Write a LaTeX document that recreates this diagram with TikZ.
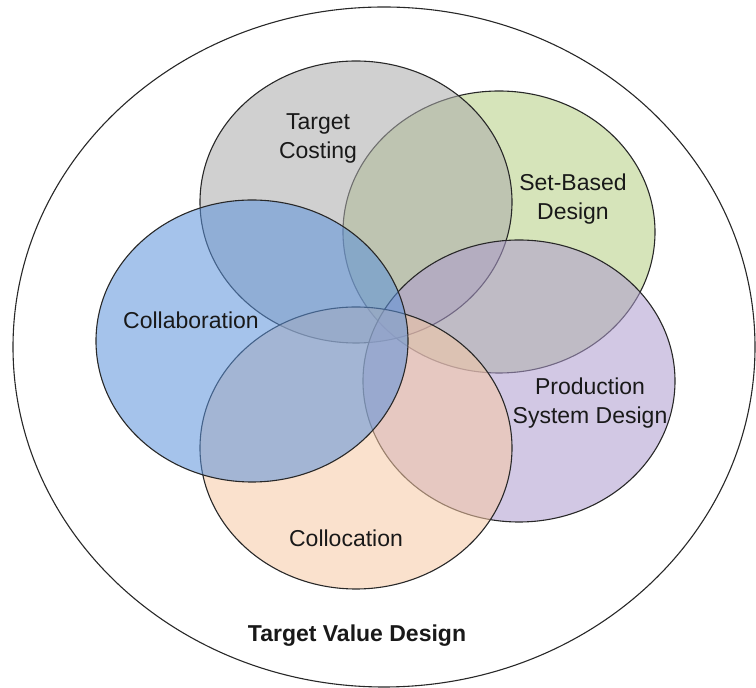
\documentclass[tikz,border=0pt]{standalone}
\usepackage{fontspec}
\setmainfont{Liberation Sans}
\usetikzlibrary{shapes.geometric}
\definecolor{cgray}{RGB}{170,170,170}
\definecolor{cgreen}{RGB}{180,206,130}
\definecolor{cblue}{RGB}{91,146,219}
\definecolor{cpurple}{RGB}{173,155,206}
\definecolor{corange}{RGB}{246,200,164}
\definecolor{cline}{RGB}{40,40,40}
\tikzset{
  set/.style={ellipse, draw=cline, line width=0.55pt, fill opacity=0.55, draw opacity=1,
    minimum width=156pt, minimum height=141pt, inner sep=0pt},
  lbl/.style={font=\fontsize{11.5pt}{14.5pt}\selectfont, align=center, text=black!90, inner sep=0pt},
}
\begin{document}
\begin{tikzpicture}[x=0.5pt,y=-0.5pt]
\useasboundingbox (0,0) rectangle (756,688);
\node[ellipse, draw=cline, line width=0.55pt, minimum width=371pt, minimum height=340pt, inner sep=0pt] (outer) at (384,347) {};
\node[set, fill=cgreen] (sb) at (499,232) {};
\node[set, fill=cgray] (tc) at (356,202) {};
\node[set, fill=cpurple] (ps) at (519,381) {};
\node[set, fill=corange] (cl) at (356,448) {};
\node[set, fill=cblue] (cb) at (252,341) {};
\node[lbl] (tct) at (318,138) {Target\\Costing};
\node[lbl] (sbt) at (573,199) {Set-Based\\Design};
\node[lbl] (cbt) at (191,320) {Collaboration};
\node[lbl] (pst) at (590,403) {Production\\System Design};
\node[lbl] (clt) at (346,538) {Collocation};
\node[lbl, font=\fontsize{11.5pt}{14.5pt}\selectfont\bfseries] (tvd) at (357,636) {Target Value Design};
\end{tikzpicture}
\end{document}
